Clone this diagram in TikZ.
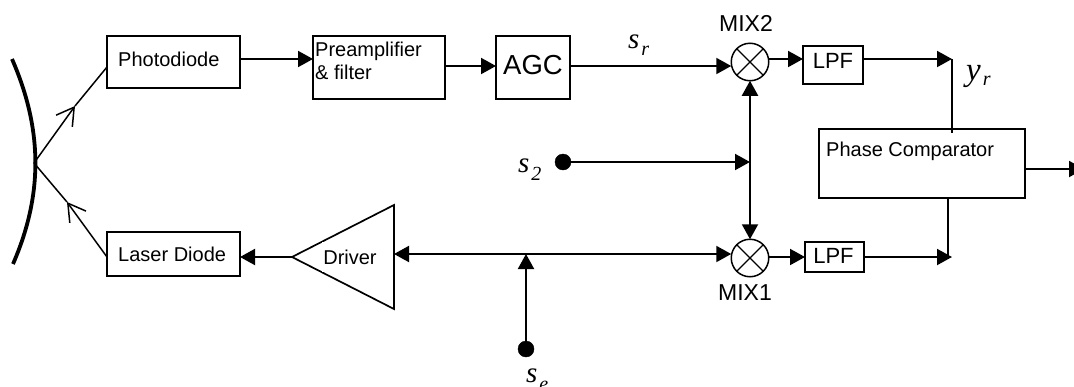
\documentclass[tikz,border=0pt]{standalone}
\usepackage{fontspec}
\setmainfont{Liberation Sans}
\newfontfamily\symfont{Liberation Serif}
\usetikzlibrary{arrows.meta}
\newcommand{\fsz}[1]{\fontsize{#1}{#1}\selectfont}
\newcommand{\sym}[5]{{\symfont\itshape\fsz{#1}#2\hspace{2pt}\raisebox{-#5pt}{\fsz{#3}#4}}}
\tikzset{
	box/.style={draw,rectangle,line width=1.7pt,inner sep=0pt,outer sep=0pt},
	txt/.style={inner sep=0pt,font=\fsz{20},align=left},
	wire/.style={line width=2pt},
	flow/.style={wire,-{Triangle[length=15pt,width=16pt]}},
	bothflow/.style={wire,{Triangle[length=15pt,width=16pt]}-{Triangle[length=15pt,width=16pt]}},
	ray/.style={line width=1.5pt},
	rayflow/.style={ray,-{Straight Barb[length=17pt,width=20pt]}},
	mixer/.style={draw,circle,line width=1.5pt,inner sep=0pt,outer sep=0pt,minimum size=37.5pt,
		path picture={\draw[line width=1.3pt] (path picture bounding box.north west)--(path picture bounding box.south east)
			(path picture bounding box.north east)--(path picture bounding box.south west);}},
	dot/.style={draw,circle,fill=black,inner sep=0pt,outer sep=0pt,minimum size=16pt}
}
\begin{document}
\begin{tikzpicture}[line cap=butt,x=1pt,y=-1pt]
	\useasboundingbox (0,0) rectangle (1074,386);
	\clip (0,0) rectangle (1074,386);
	% heights of the signal lines
	\coordinate (rowa) at (0,59);
	\coordinate (rowb) at (0,66);
	\coordinate (rowc) at (0,254);
	\coordinate (rowd) at (0,257);
	% upper chain
	\node[box,minimum width=133pt,minimum height=52pt] (photo) at (173.5,62) {};
	\node[box,minimum width=132pt,minimum height=63pt] (preamp) at (379,67.5) {};
	\node[box,minimum width=74pt,minimum height=63pt] (agc) at (533,67.5) {};
	\node[mixer] (mixb) at (750,62) {};
	\node[box,minimum width=60pt,minimum height=38pt] (lpfb) at (833,65) {};
	\node[box,minimum width=206pt,minimum height=69pt] (comp) at (922,163.5) {};
	% lower chain
	\node[box,minimum width=133pt,minimum height=44pt] (laser) at (173.5,254) {};
	\coordinate (tip) at (292,257);
	\coordinate (drvtop) at (394,205);
	\coordinate (drvbot) at (394,309);
	\draw[line width=1.7pt,line join=miter] (tip) -- (drvtop) -- (drvbot) -- cycle;
	\node[txt,fill=white,minimum width=56pt,minimum height=30.5pt] (driver) at (350,257) {Driver};
	\node[mixer] (mixa) at (750,258) {};
	\node[box,minimum width=59pt,minimum height=30pt] (lpfa) at (834.5,257) {};
	% inputs
	\node[dot] (stwo) at (563,162) {};
	\node[dot] (se) at (526,349) {};
	% texts
	\node[txt,anchor=west] (phototxt) at (118,59) {Photodiode};
	\node[txt,anchor=west] (preamptxt) at (315,61) {Preamplifier\\[3pt]\& filter};
	\node[txt,font=\fsz{27.5}] (agctxt) at (533,65) {AGC};
	\node[txt,font=\fsz{22}] (lpfbtxt) at (833,61) {LPF};
	\node[txt,font=\fsz{22}] (lpfatxt) at (833.5,256) {LPF};
	\node[txt,anchor=west] (comptxt) at (826,151) {Phase Comparator};
	\node[txt,anchor=west] (lasertxt) at (118,254) {Laser Diode};
	\node[txt,font=\fsz{23}] (mixbtxt) at (746,23) {MIX2};
	\node[txt,font=\fsz{23}] (mixatxt) at (745,293) {MIX1};
	\node[txt,anchor=base west] (srtxt) at (628,48) {\sym{29}{s}{20}{r}{7}};
	\node[txt,anchor=base west] (yrtxt) at (966,80) {\sym{33}{y}{20}{r}{5}};
	\node[txt,anchor=base west] (stwotxt) at (518,172) {\sym{29}{s}{20}{2}{8}};
	\node[txt,anchor=base west] (setxt) at (526,382) {\sym{29}{s}{20}{e}{8}};
	% mirror and rays
	\coordinate (refl) at (34,163);
	\coordinate (rayb) at (75,106);
	\coordinate (raya) at (67,202);
	\draw[line width=3.8pt] (12,59) .. controls (43,130) and (43,195) .. (13,264);
	\draw[rayflow] (refl) -- (rayb);
	\draw[ray] (rayb) -- (photo.west |- 0,67);
	\draw[rayflow] (laser.west |- rowd) -- (raya);
	\draw[ray] (raya) -- (refl);
	% signal lines
	\draw[flow] (photo.east |- rowa) -- (preamp.west |- rowa);
	\draw[flow] (preamp.east |- rowb) -- (agc.west |- rowb);
	\draw[flow] (agc.east |- rowb) -- (mixb.west |- rowb);
	\draw[flow] (mixb.east |- rowa) -- (lpfb.west |- rowa);
	\coordinate (endb) at (952,59);
	\draw[flow] (lpfb.east |- rowa) -- (endb);
	\draw[ray] (endb) -- ([yshift=-4pt]endb |- comp.north);
	\draw[bothflow] (mixb.south) -- (mixa.north);
	\draw[flow] (stwo) -- (stwo -| mixb);
	\draw[flow] (tip) -- (laser.east |- rowd);
	\draw[bothflow] (drvtop |- rowc) -- (mixa.west |- rowc);
	\draw[flow] (se) -- (se |- rowc);
	\draw[flow] (mixa.east |- rowd) -- (lpfa.west |- rowd);
	\coordinate (enda) at (952,257);
	\draw[flow] (lpfa.east |- rowd) -- (enda);
	\draw[ray] (comp.south -| 948,0) -- (948,257);
	\coordinate (out) at (1084,169);
	\draw[flow] (comp.east |- out) -- (out);
\end{tikzpicture}
\end{document}
